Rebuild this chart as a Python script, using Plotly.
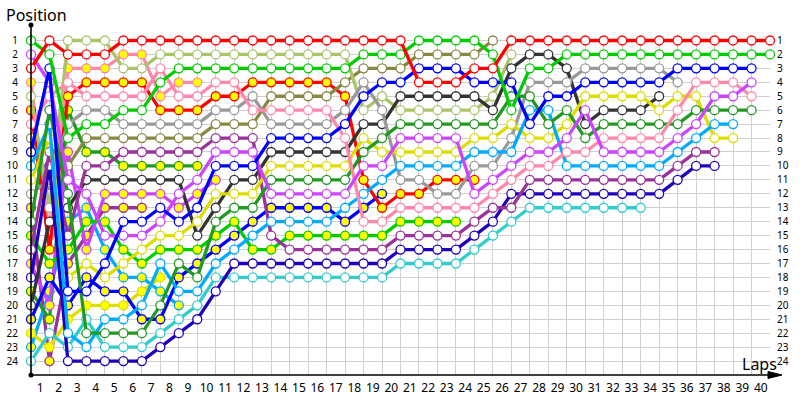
import plotly.graph_objects as go

# ---------------- data: position of each car at the end of each lap (lap 0 = grid) ----------------
lap_labels = list(range(1, 41))
position_labels = list(range(1, 25))

R1 = [3,1,2,2,2,1,1,1,1,1, 1,1,1,1,1,1,1,1,1,1, 1,4,4,4,3,3,1,1,1,1, 1,1,1,1,1,1,1,1,1,1, 1]
G1 = [1,2,8,7,7,6,6,4,3,3, 3,3,3,3,3,3,3,3,2,2, 2,1,1,1,1,2,6,3,3,2, 2,2,2,2,2,2,2,2,2,2, 2]
LO1 = [5,13,1,1,1,3,3,2,2,2, 2,2,2,2,2,2,2,2,6,5, 6,6,6,6,6,5,2]
O1 = [8,12,10,8,8,8,8,8,8,8, 7,7,7,5,5,5,5,4,3,3, 3,2,2,2,2,1]
R2 = [6,16,5,4,4,4,4,6,6,6, 5,5,4,4,4,4,4,5,11,13, 12,12,11,11,11]
P1 = [7,5,4,5,5,5,5,3,5,5, 4,4,6,6,6,6,6,8,14,14, 13,13,13,13,13,12,11,10,10,9, 9,8,8,8,8,6,4,4,4,5]
P2 = [4,15,3,3,3,2,2,5,4,4]
Gy1 = [12,11,7,6,6,7,7,7,7,7, 6,6,5,7,7,7,7,6,4,6, 11,11,12,12,10,10,8,4,4,4, 3,3,3,3,3,4]
B1 = [9,3,19,19,17,14,14,13,14,13, 10,10,10,8,8,8,8,7,5,4, 4,3,3,3,4,4,4,7,5,5, 4,4,4,4,4,3,3,3,3,3]
B2 = [21,18,20,18,19,19,21,21,18,17, 16,15,14,13,13,13,13,14,13,12]
K1 = [20,14,13,11,11,11,11,11,11,15, 13,11,11,9,9,9,9,9,7,7, 5,5,5,5,5,6,3,2,2,3, 7,6,6,6,5]
Y1 = [11,8,18,17,18,17,16,15,15,14, 12,12,12,10,10,10,10,10,8,9, 9,9,9,9,8,8,7,8,8,7, 5,5,5,5,6,5,5,8,8]
Y2 = [22,23,21,20,20,20,19,18]
DG1 = [14,6,12,22,22,22,22,20,17,18, 14,13,13,11,11,11,11,11,9,8, 7,7,7,7,7,7,5,5,7,6, 8,7,7,7,7,7,6,6,6,6]
DG2 = [19,21,6,9,9,10,10,10,10,10]
G2 = [15,17,16,14,14,16,17,16,16,16, 15,14,16,16,15,15,15,15,15,15, 14,14,14,14]
M1 = [2,4,11,12,15,15,15,14,12,11, 9,9,9,12,12,12,12,12,10,10, 8,8,8,8,12,11,10,9,9,8, 6,9,9,9,9,8,7,5,5,4]
M2 = [17,20,9,16,12,12,12,12,13,12, 11]
LB1 = [10,7,22,23,21,21,20,17,19,19, 17,16,15,14,14,14,14,13,12,11, 10,10,10,10,9,9,9,6,6,10, 10,10,10,10,10,9,8,7,7]
LB2 = [23,19,14,13,16,18,18,19,20]
DP1 = [16,9,15,10,10,9,9,9,9,9, 8,8,8,15,16,16,16,16,16,16, 15,15,15,15,14,13,13,11,11,11, 11,11,11,11,11,10,9,9]
DP2 = [13,24,17,15,13,13,13]
N1 = [18,10,24,24,24,24,24,23,22,21, 19,17,17,17,17,17,17,17,17,17, 16,16,16,16,15,14,12,12,12,12, 12,12,12,12,12,11,10,10]
T1 = [24,22,23,21,23,23,23,22,21,20, 18,18,18,18,18,18,18,18,18,18, 17,17,17,17,16,15,14,13,13,13, 13,13,13,13]

# ---------------- styles (line colour, marker fill) ----------------
WHITE, YEL = "#ffffff", "#ffff00"
cars = [
    ("DP2", DP2, "#993399", YEL), ("LB2", LB2, "#00aaff", YEL), ("Y2", Y2, "#dddd00", YEL),
    ("P2", P2, "#ff88aa", YEL), ("DG2", DG2, "#229922", YEL), ("M2", M2, "#cc44ff", YEL),
    ("B2", B2, "#0000ff", YEL), ("G2", G2, "#00cc00", YEL), ("R2", R2, "#ff0000", YEL),
    ("O1", O1, "#888844", WHITE), ("LO1", LO1, "#aac46a", WHITE), ("T1", T1, "#33cccc", WHITE),
    ("K1", K1, "#333333", WHITE), ("Gy1", Gy1, "#999999", WHITE), ("N1", N1, "#2200bb", WHITE),
    ("DP1", DP1, "#993399", WHITE), ("Y1", Y1, "#dddd00", WHITE), ("LB1", LB1, "#00aaff", WHITE),
    ("DG1", DG1, "#229922", WHITE), ("P1", P1, "#ff88aa", WHITE), ("M1", M1, "#cc44ff", WHITE),
    ("B1", B1, "#0000ff", WHITE), ("G1", G1, "#00cc00", WHITE), ("R1", R1, "#ff0000", WHITE),
]

fig = go.Figure()
fig.add_trace(go.Scatter(x=[0], y=[1], yaxis="y2", mode="markers", marker=dict(opacity=0),
                         hoverinfo="skip", showlegend=False))
for name, pos, col, fill in cars:
    fig.add_trace(go.Scatter(
        x=list(range(len(pos))), y=pos, name=name, mode="lines+markers",
        line=dict(color=col, width=3.3),
        marker=dict(size=9, color=fill, line=dict(color=col, width=1.3)),
        cliponaxis=False, hoverinfo="skip", showlegend=False))

# plot area: x 31..770 px, y 37..375 px
L, T, W, H = 31, 37, 739, 338
def px(x): return (x - L) / W
def py(y): return (T + H - y) / H

grid = "#cfcfcf"
fig.update_layout(
    width=800, height=400,
    margin=dict(l=L, r=800 - L - W, t=T, b=400 - T - H, pad=0, autoexpand=False),
    paper_bgcolor="white", plot_bgcolor="white", showlegend=False,
    font=dict(family="Noto Sans", color="#000000"),
    xaxis=dict(range=[0, 40], tickmode="array", automargin=False,
               tickvals=[k - 0.5 for k in lap_labels], ticktext=[str(k) for k in lap_labels],
               showgrid=False, zeroline=False, showline=False, ticks="",
               tickfont=dict(size=12, color="#000000"), ticklabelstandoff=4,
               minor=dict(tickmode="array", tickvals=list(range(0, 41)), showgrid=True,
                          gridcolor=grid, gridwidth=1, ticks="")),
    yaxis=dict(range=[25, 0.75], tickmode="array", tickvals=position_labels, automargin=False,
               ticktext=[str(p) for p in position_labels],
               showgrid=True, gridcolor=grid, gridwidth=1, zeroline=False, showline=False,
               ticks="", tickfont=dict(size=10, color="#000000"), ticklabelstandoff=12),
    yaxis2=dict(overlaying="y", side="right", range=[25, 0.75], tickmode="array", automargin=False,
                tickvals=position_labels, ticktext=[str(p) for p in position_labels],
                showgrid=False, zeroline=False, showline=False, ticks="",
                tickfont=dict(size=10, color="#000000"), ticklabelstandoff=6),
)

shapes = [
    dict(type="line", xref="paper", yref="paper", x0=0, x1=0, y0=0, y1=py(25),
         line=dict(color="#000000", width=1.6)),
    dict(type="line", xref="paper", yref="paper", x0=0, x1=px(776), y0=0, y1=0,
         line=dict(color="#000000", width=1.6)),
    dict(type="path", xref="paper", yref="paper",
         path=f"M {px(782)} {py(375)} L {px(768)} {py(371.5)} L {px(768)} {py(378.5)} Z",
         fillcolor="#000000", line=dict(color="#000000", width=1)),
    dict(type="circle", xref="paper", yref="paper", x0=px(28.5), x1=px(33.5), y0=py(27.5), y1=py(22.5),
         fillcolor="#000000", line=dict(color="#000000", width=0)),
    dict(type="circle", xref="paper", yref="paper", x0=px(28.5), x1=px(33.5), y0=py(377.5), y1=py(372.5),
         fillcolor="#000000", line=dict(color="#000000", width=0)),
]
fig.update_layout(shapes=shapes)

fig.add_annotation(text="Position", xref="paper", yref="paper", x=px(4), y=py(15),
                   xanchor="left", yanchor="middle", showarrow=False,
                   font=dict(size=16, color="#000000"))
fig.add_annotation(text="Laps", xref="paper", yref="paper", x=px(759), y=py(364),
                   xanchor="center", yanchor="middle", showarrow=False,
                   font=dict(size=16, color="#000000"))

# remove the page's default body margin so the 800x400 figure fills the window exactly
fig.write_html("out.html",
               config={"displayModeBar": False},
               post_script="document.body.style.margin='0px';document.body.style.padding='0px';"
                           "document.body.style.overflow='hidden';")
